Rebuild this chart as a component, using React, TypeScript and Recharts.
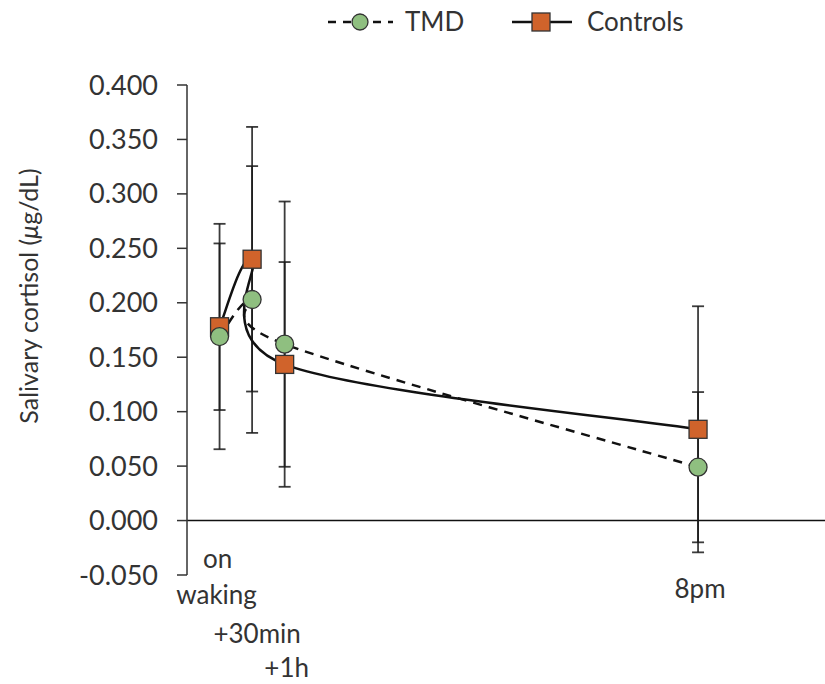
import React from 'react';
import { ComposedChart, Line, XAxis, YAxis, ErrorBar, ReferenceLine } from 'recharts';

// Sampling times (hours after waking, positioned as in the figure)
const timePoints = [0, 0.5, 1, 7.35];
const timeLabels = ['on waking', '+30min', '+1h', '8pm'];

const tmdMean = [0.169, 0.203, 0.162, 0.049];
const tmdErr = [0.1035, 0.1225, 0.131, 0.069];
const controlsMean = [0.178, 0.240, 0.1434, 0.0838];
const controlsErr = [0.0765, 0.1215, 0.094, 0.113];

const yTicks = [-0.05, 0, 0.05, 0.1, 0.15, 0.2, 0.25, 0.3, 0.35, 0.4];

const data = timePoints.map((t, i) => ({
  t,
  label: timeLabels[i],
  tmd: tmdMean[i],
  tmdErr: tmdErr[i],
  controls: controlsMean[i],
  controlsErr: controlsErr[i],
}));

const FONT = 'Lato, "DejaVu Sans", sans-serif';
const TEXT = '#333333';
const GREEN = '#8fbf80';
const ORANGE = '#d0632b';

// Excel-style smoothed line (uniform Catmull-Rom as cubic Bezier)
const excelSmooth: any = (context: any) => {
  let pts: [number, number][] = [];
  return {
    areaStart() {},
    areaEnd() {},
    lineStart() {
      pts = [];
    },
    lineEnd() {
      if (!pts.length) return;
      context.moveTo(pts[0][0], pts[0][1]);
      for (let i = 0; i < pts.length - 1; i++) {
        const p0 = pts[i - 1] || pts[i];
        const p1 = pts[i];
        const p2 = pts[i + 1];
        const p3 = pts[i + 2] || pts[i + 1];
        context.bezierCurveTo(
          p1[0] + (p2[0] - p0[0]) / 6,
          p1[1] + (p2[1] - p0[1]) / 6,
          p2[0] - (p3[0] - p1[0]) / 6,
          p2[1] - (p3[1] - p1[1]) / 6,
          p2[0],
          p2[1]
        );
      }
    },
    point(x: number, y: number) {
      pts.push([x, y]);
    },
  };
};

const CircleDot = (props: any) => {
  const { cx, cy } = props;
  if (cx == null || cy == null) return null;
  return <circle cx={cx} cy={cy} r={9} fill={GREEN} stroke="#333" strokeWidth={1.3} />;
};

const SquareDot = (props: any) => {
  const { cx, cy } = props;
  if (cx == null || cy == null) return null;
  return <rect x={cx - 9} y={cy - 9} width={18} height={18} fill={ORANGE} stroke="#333" strokeWidth={1.3} />;
};

const tickLayout: { text: string; dx: number; dy: number }[][] = [
  [
    { text: 'on', dx: -2, dy: -7 },
    { text: 'waking', dx: -3, dy: 29 },
  ],
  [{ text: '+30min', dx: 5, dy: 68 }],
  [{ text: '+1h', dx: 2, dy: 102 }],
  [{ text: '8pm', dx: 2, dy: 23 }],
];

const XTick = (props: any) => {
  const { x, y, index } = props;
  const lines = tickLayout[index] || [];
  return (
    <g>
      {lines.map((l, k) => (
        <text
          key={k}
          x={x + l.dx}
          y={y + l.dy}
          textAnchor="middle"
          fontFamily={FONT}
          fontSize={26}
          fill={TEXT}
        >
          {l.text}
        </text>
      ))}
    </g>
  );
};

const YLabel = (props: any) => {
  const vb = props.viewBox || { x: 0, y: 0, height: 0 };
  const cx = vb.x + 28;
  const cy = vb.y + vb.height / 2 - 34;
  return (
    <text
      x={cx}
      y={cy}
      transform={`rotate(-90, ${cx}, ${cy})`}
      textAnchor="middle"
      dominantBaseline="central"
      fontFamily={FONT}
      fontSize={25}
      fill={TEXT}
    >
      Salivary cortisol (<tspan fontStyle="italic">μ</tspan>g/dL)
    </text>
  );
};

const LegendOverlay = () => (
  <svg width={825} height={50} style={{ position: 'absolute', left: 0, top: 0 }}>
    <line x1={328} y1={22} x2={393} y2={22} stroke="#111" strokeWidth={2.5} strokeDasharray="8 7" />
    <circle cx={360} cy={22} r={8} fill={GREEN} stroke="#333" strokeWidth={1.3} />
    <text x={405} y={31} fontFamily={FONT} fontSize={26} fill={TEXT}>
      TMD
    </text>
    <line x1={512} y1={22} x2={572} y2={22} stroke="#111" strokeWidth={2.5} />
    <rect x={532} y={13} width={18} height={18} fill={ORANGE} stroke="#333" strokeWidth={1.3} />
    <text x={587} y={31} fontFamily={FONT} fontSize={26} fill={TEXT}>
      Controls
    </text>
  </svg>
);

export default function App() {
  return (
    <div style={{ position: 'absolute', left: 0, top: 0, width: 825, height: 684, background: '#fff' }}>
      <ComposedChart
        width={825}
        height={684}
        data={data}
        margin={{ top: 85, right: 0, bottom: 0, left: 0 }}
      >
        <XAxis
          dataKey="t"
          type="number"
          domain={[-0.5, 9.3]}
          ticks={timePoints}
          axisLine={false}
          tickLine={false}
          tickSize={0}
          tickMargin={0}
          height={109}
          interval={0}
          tick={<XTick />}
        />
        <YAxis
          type="number"
          domain={[-0.05, 0.4]}
          ticks={yTicks}
          interval={0}
          width={187}
          tickFormatter={(v: number) => v.toFixed(3)}
          tick={{ fontFamily: FONT, fontSize: 27, fill: TEXT }}
          tickSize={10}
          tickMargin={19}
          axisLine={{ stroke: '#333', strokeWidth: 1.5 }}
          tickLine={{ stroke: '#333', strokeWidth: 1.5 }}
          label={<YLabel />}
        />
        <ReferenceLine y={0} stroke="#111" strokeWidth={1.5} />
        {/* error bars drawn first so all markers sit on top */}
        <Line
          dataKey="controls"
          stroke="none"
          dot={false}
          activeDot={false}
          legendType="none"
          isAnimationActive={false}
        >
          <ErrorBar dataKey="controlsErr" direction="y" width={6} stroke="#1a1a1a" strokeOpacity={0.85} strokeWidth={1.8} />
        </Line>
        <Line
          dataKey="tmd"
          stroke="none"
          dot={false}
          activeDot={false}
          legendType="none"
          isAnimationActive={false}
        >
          <ErrorBar dataKey="tmdErr" direction="y" width={6} stroke="#1a1a1a" strokeOpacity={0.85} strokeWidth={1.8} />
        </Line>
        <Line
          dataKey="controls"
          type={excelSmooth}
          stroke="#111"
          strokeWidth={2.5}
          dot={<SquareDot />}
          activeDot={false}
          isAnimationActive={false}
        />
        <Line
          dataKey="tmd"
          type={excelSmooth}
          stroke="#111"
          strokeWidth={2.5}
          strokeDasharray="9 7"
          dot={<CircleDot />}
          activeDot={false}
          isAnimationActive={false}
        />
      </ComposedChart>
      <LegendOverlay />
    </div>
  );
}
